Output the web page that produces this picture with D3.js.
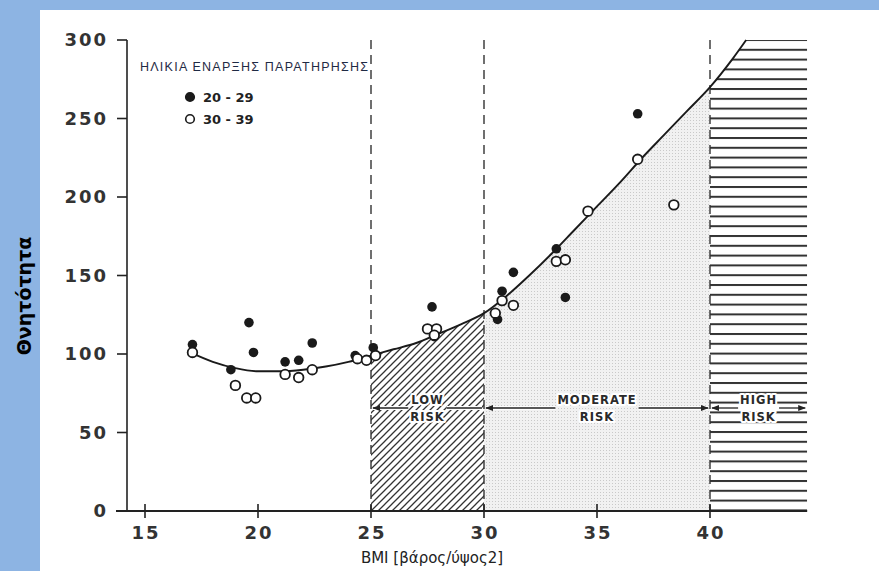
<!DOCTYPE html>
<html>
<head>
<meta charset="utf-8">
<script src="https://cdn.jsdelivr.net/npm/d3@7/dist/d3.min.js"></script>
<style>
    body { margin: 0; background: #8db4e3; }
    svg { display: block; }
    .tick-label { font-family: "DejaVu Sans", sans-serif; font-size: 18px; font-weight: bold; fill: #333; letter-spacing: 2px; }
    .risk { font-family: "DejaVu Sans", sans-serif; font-size: 11.5px; font-weight: bold; fill: #2a2a2a; letter-spacing: 1px;
            stroke: #fff; stroke-width: 4px; paint-order: stroke; stroke-linejoin: round; }
</style>
</head>
<body>
<svg width="879" height="571"></svg>
<script>
// tick values
const xTicks = [15, 20, 25, 30, 35, 40];
const yTicks = [0, 50, 100, 150, 200, 250, 300];

// risk boundaries (BMI)
const riskCuts = [25, 30, 40];
const riskZones = [
    { name: ["LOW", "RISK"], from: 25, to: 30, arrowL: true, arrowR: false },
    { name: ["MODERATE", "RISK"], from: 30, to: 40, arrowL: true, arrowR: true },
    { name: ["HIGH", "RISK"], from: 40, to: 44.3, arrowL: true, arrowR: true }
];

// fitted mortality curve
const curveBmi = [17, 18, 19, 20, 21, 22, 23, 24, 25, 26, 27, 28, 29, 30, 31, 32, 33, 34, 35, 36, 37, 38, 39, 40, 41, 41.6];
const curveVal = [101, 95, 91, 89, 89, 90, 92, 95, 99, 103, 107, 113, 119, 126, 137, 150, 164, 179, 194, 209, 225, 240, 255, 270, 288, 300];

// age 20-29 (filled)
const youngBmi = [17.1, 19.6, 19.8, 18.8, 21.2, 21.8, 22.4, 24.3, 25.1, 27.7, 27.8, 30.6, 30.8, 31.3, 33.2, 33.6, 36.8];
const youngVal = [106, 120, 101, 90, 95, 96, 107, 99, 104, 130, 111, 122, 140, 152, 167, 136, 253];

// age 30-39 (open)
const oldBmi = [17.1, 19.0, 19.5, 19.9, 21.2, 21.8, 22.4, 24.4, 24.8, 25.2, 27.5, 27.9, 27.8, 30.5, 30.8, 31.3, 33.2, 33.6, 34.6, 36.8, 38.4];
const oldVal = [101, 80, 72, 72, 87, 85, 90, 97, 96, 99, 116, 116, 112, 126, 134, 131, 159, 160, 191, 224, 195];

const svg = d3.select("svg");

// white panel
svg.append("rect").attr("x", 40).attr("y", 10).attr("width", 839).attr("height", 561).attr("fill", "#fff");

const x = d3.scaleLinear().domain([15, 40]).range([145, 710]);
const y = d3.scaleLinear().domain([0, 300]).range([511, 40]);
const xLeft = x.invert(127);
const xRight = 44.3;

const defs = svg.append("defs");

const hatch = defs.append("pattern").attr("id", "hatch")
    .attr("patternUnits", "userSpaceOnUse").attr("width", 7).attr("height", 7);
hatch.append("path").attr("d", "M-1,1 l2,-2 M0,7 l7,-7 M6,8 l2,-2")
    .attr("stroke", "#333").attr("stroke-width", 1.3);

const dots = defs.append("pattern").attr("id", "dots")
    .attr("patternUnits", "userSpaceOnUse").attr("width", 3).attr("height", 3);
dots.append("rect").attr("width", 3).attr("height", 3).attr("fill", "#f1f1f1");
dots.append("rect").attr("width", 1).attr("height", 1).attr("fill", "#c9c9c9");

const hlines = defs.append("pattern").attr("id", "hlines")
    .attr("patternUnits", "userSpaceOnUse").attr("width", 10).attr("height", 9.8)
    .attr("y", y(300) - 1);
hlines.append("rect").attr("y", 0).attr("width", 10).attr("height", 2).attr("fill", "#333");

const curvePts = curveBmi.map((b, i) => [b, curveVal[i]]);
const clipPts = curvePts.concat([[xRight, 300]]);

defs.append("clipPath").attr("id", "under")
    .append("path")
    .attr("d", d3.area()
        .x(d => x(d[0]))
        .y0(y(0))
        .y1(d => y(d[1]))
        .curve(d3.curveLinear)([[xLeft, curveVal[0]]].concat(clipPts)));

const zoneFill = ["url(#hatch)", "url(#dots)", "url(#hlines)"];
svg.append("g").attr("clip-path", "url(#under)")
    .selectAll("rect")
    .data(riskZones)
    .join("rect")
    .attr("x", d => x(d.from))
    .attr("width", d => x(d.to) - x(d.from))
    .attr("y", y(300))
    .attr("height", y(0) - y(300) + 1)
    .attr("fill", (d, i) => zoneFill[i]);

// dashed risk boundaries
svg.append("g").selectAll("line")
    .data(riskCuts)
    .join("line")
    .attr("x1", d => x(d)).attr("x2", d => x(d))
    .attr("y1", y(300)).attr("y2", y(0))
    .attr("stroke", "#333").attr("stroke-width", 1.4)
    .attr("stroke-dasharray", "9,6");

// fitted curve
svg.append("path")
    .datum(curvePts)
    .attr("fill", "none")
    .attr("stroke", "#1a1a1a")
    .attr("stroke-width", 1.9)
    .attr("d", d3.line().x(d => x(d[0])).y(d => y(d[1])).curve(d3.curveMonotoneX));

// axes
svg.append("line")
    .attr("x1", 127).attr("x2", 127).attr("y1", y(300)).attr("y2", y(0))
    .attr("stroke", "#222").attr("stroke-width", 1.6);
svg.append("line")
    .attr("x1", 116).attr("x2", x(xRight)).attr("y1", y(0)).attr("y2", y(0))
    .attr("stroke", "#222").attr("stroke-width", 1.8);

const yTickG = svg.append("g").selectAll("g").data(yTicks).join("g")
    .attr("transform", d => `translate(127,${y(d)})`);
yTickG.append("line").attr("x1", -10).attr("x2", 0).attr("stroke", "#222").attr("stroke-width", 1.6);
yTickG.append("text").attr("class", "tick-label")
    .attr("x", -19).attr("dy", "0.36em").attr("text-anchor", "end")
    .text(d => d);

const xTickG = svg.append("g").selectAll("g").data(xTicks).join("g")
    .attr("transform", d => `translate(${x(d)},${y(0)})`);
xTickG.append("line").attr("y1", -7).attr("y2", 7).attr("stroke", "#222").attr("stroke-width", 1.6);
xTickG.append("text").attr("class", "tick-label")
    .attr("x", 1).attr("y", 28).attr("text-anchor", "middle")
    .text(d => d);

// points
svg.append("g").selectAll("circle")
    .data(youngBmi.map((b, i) => [b, youngVal[i]]))
    .join("circle")
    .attr("cx", d => x(d[0])).attr("cy", d => y(d[1])).attr("r", 4.8)
    .attr("fill", "#1a1a1a");

svg.append("g").selectAll("circle")
    .data(oldBmi.map((b, i) => [b, oldVal[i]]))
    .join("circle")
    .attr("cx", d => x(d[0])).attr("cy", d => y(d[1])).attr("r", 4.8)
    .attr("fill", "#fff").attr("stroke", "#1a1a1a").attr("stroke-width", 1.8);

// risk labels with arrows
defs.append("marker").attr("id", "arr")
    .attr("viewBox", "0 0 10 10").attr("refX", 9).attr("refY", 5)
    .attr("markerWidth", 6).attr("markerHeight", 6).attr("orient", "auto-start-reverse")
    .append("path").attr("d", "M0,1 L10,5 L0,9 z").attr("fill", "#222");

const labelY = 408;
riskZones.forEach(z => {
    const cx = (x(z.from) + x(z.to)) / 2;
    const g = svg.append("g");
    const t = g.append("text").attr("class", "risk").attr("text-anchor", "middle");
    t.append("tspan").attr("x", cx).attr("y", labelY - 4).text(z.name[0]);
    t.append("tspan").attr("x", cx).attr("y", labelY + 13).text(z.name[1]);
    const w = t.node().getBBox().width - 4;
    [[cx - w / 2 - 4, x(z.from) + 2, z.arrowL], [cx + w / 2 + 4, x(z.to) - 2, z.arrowR]].forEach(s => {
        g.append("line")
            .attr("x1", s[0]).attr("x2", s[1])
            .attr("y1", labelY).attr("y2", labelY)
            .attr("stroke", "#fff").attr("stroke-width", 4);
        g.append("line")
            .attr("x1", s[0]).attr("x2", s[1])
            .attr("y1", labelY).attr("y2", labelY)
            .attr("stroke", "#222").attr("stroke-width", 1.3)
            .attr("marker-end", s[2] ? "url(#arr)" : null);
    });
});

// legend
svg.append("text")
    .attr("x", 140).attr("y", 71)
    .attr("font-family", "Liberation Sans, Arial, sans-serif")
    .attr("font-size", 12.5)
    .attr("fill", "#1f2a44")
    .attr("textLength", 228)
    .text("ΗΛΙΚΙΑ ΕΝΑΡΞΗΣ ΠΑΡΑΤΗΡΗΣΗΣ");

const legendItems = [
    { label: "20 - 29", filled: true },
    { label: "30 - 39", filled: false }
];
const lg = svg.append("g").selectAll("g").data(legendItems).join("g")
    .attr("transform", (d, i) => `translate(190,${97 + i * 22})`);
lg.append("circle").attr("r", 4.3)
    .attr("fill", d => d.filled ? "#1a1a1a" : "#fff")
    .attr("stroke", "#1a1a1a").attr("stroke-width", 1.6);
lg.append("text").attr("x", 13).attr("dy", "0.35em")
    .attr("font-family", "DejaVu Sans, sans-serif").attr("font-size", 13)
    .attr("font-weight", "bold").attr("fill", "#222")
    .text(d => d.label);

// axis titles
svg.append("text")
    .attr("x", x(27.7)).attr("y", 563)
    .attr("text-anchor", "middle")
    .attr("font-family", "DejaVu Sans, sans-serif").attr("font-size", 15)
    .attr("fill", "#222")
    .text("BMI [βάρος/ύψος2]");

svg.append("text")
    .attr("transform", "translate(31,296) rotate(-90)")
    .attr("text-anchor", "middle")
    .attr("font-family", "DejaVu Sans, sans-serif").attr("font-size", 19)
    .attr("font-weight", "bold").attr("fill", "#000")
    .text("Θνητότητα");
</script>
</body>
</html>
